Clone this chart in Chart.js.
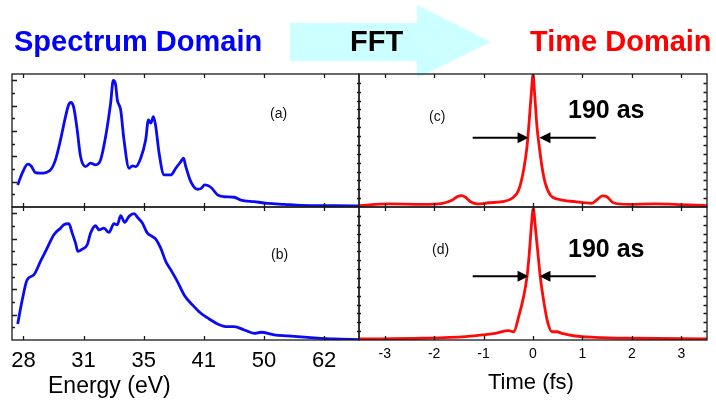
<!DOCTYPE html>
<html>
<head>
<meta charset="utf-8">
<script src="https://cdn.jsdelivr.net/npm/chart.js@4.4.0/dist/chart.umd.min.js"></script>
<style>
  body { margin: 0; background: #fff; }
  #wrap { position: relative; width: 716px; height: 400px; overflow: hidden;
          font-family: "Liberation Sans", Arial, sans-serif; }
  #wrap canvas { position: absolute; left: 0; top: 0; }
  .txt { position: absolute; white-space: nowrap; line-height: 1; }
  #fft-arrow { position: absolute; left: 290px; top: 5px; width: 201px; height: 73px; background: #ccffff;
               clip-path: polygon(0 18px, 127px 18px, 127px 0, 201px 37px, 127px 73px, 127px 56px, 0 56px); }
</style>
</head>
<body>
<div id="wrap">
  <div id="fft-arrow"></div>
  <canvas id="chartA" width="716" height="400"></canvas>
  <canvas id="chartB" width="716" height="400"></canvas>
  <canvas id="chartC" width="716" height="400"></canvas>
  <canvas id="chartD" width="716" height="400"></canvas>
</div>
<script>
// --- tick labels ---
// energy axis: ticks equally spaced, x data below is the position along that axis (0 = "28" tick)
const energyTicks = ["28", "31", "35", "41", "50", "62"];
const timeTicks = [-3, -2, -1, 0, 1, 2, 3];

// --- (a) spectrum ---
const posA = [-0.095, -0.02, 0.072, 0.128, 0.2, 0.283, 0.45, 0.533, 0.617, 0.7, 0.756, 0.794, 0.839, 0.894, 0.95,
  1.033, 1.117, 1.2, 1.283, 1.367, 1.45, 1.494, 1.533, 1.561, 1.617, 1.672, 1.756, 1.811, 1.867, 1.95,
  2.033, 2.078, 2.117, 2.161, 2.2, 2.256, 2.339, 2.45, 2.533, 2.617, 2.661, 2.7, 2.783, 2.894, 2.95,
  3.017, 3.117, 3.228, 3.339, 3.506, 3.617, 3.839, 4.061, 4.339, 4.617, 5.17, 5.58];
const specA = [0.174, 0.267, 0.338, 0.324, 0.271, 0.267, 0.293, 0.372, 0.53, 0.714, 0.812, 0.825, 0.781, 0.609, 0.398,
  0.319, 0.346, 0.332, 0.372, 0.556, 0.82, 0.999, 0.965, 0.847, 0.767, 0.53, 0.306, 0.324, 0.319, 0.385,
  0.53, 0.688, 0.662, 0.714, 0.635, 0.425, 0.253, 0.253, 0.306, 0.358, 0.385, 0.319, 0.2, 0.14, 0.145,
  0.174, 0.156, 0.095, 0.081, 0.077, 0.055, 0.042, 0.029, 0.021, 0.013, 0.01, 0.008];

// --- (b) spectrum ---
const posB = [-0.095, -0.02, 0.061, 0.172, 0.283, 0.394, 0.506, 0.617, 0.672, 0.756, 0.811, 0.867, 0.906, 0.978,
  1.061, 1.117, 1.2, 1.256, 1.339, 1.422, 1.506, 1.561, 1.617, 1.683, 1.756, 1.839, 1.906, 1.978,
  2.061, 2.144, 2.2, 2.283, 2.367, 2.45, 2.561, 2.672, 2.811, 2.95, 3.089, 3.228, 3.394, 3.506, 3.672,
  3.839, 3.95, 4.172, 4.394, 4.728, 5.17, 5.58];
const specB = [0.127, 0.316, 0.475, 0.514, 0.62, 0.725, 0.831, 0.883, 0.91, 0.918, 0.844, 0.765, 0.699, 0.717,
  0.752, 0.844, 0.902, 0.87, 0.883, 0.849, 0.918, 0.91, 0.981, 0.928, 0.976, 0.997, 0.963, 0.923,
  0.844, 0.817, 0.797, 0.725, 0.62, 0.554, 0.461, 0.356, 0.277, 0.211, 0.166, 0.127, 0.105, 0.105, 0.079,
  0.053, 0.061, 0.04, 0.032, 0.021, 0.008, 0.003];

// --- (c) pulse (fs) ---
const timeC = [-3.52, -2.91, -2.24, -1.83, -1.63, -1.53, -1.445, -1.365, -1.264, -1.129, -0.895, -0.625, -0.423,
  -0.29, -0.19, -0.121, -0.075, -0.034, 0, 0.032, 0.08, 0.127, 0.181, 0.248, 0.349, 0.516, 0.853,
  1.19, 1.29, 1.403, 1.49, 1.625, 1.93, 2.466, 2.87, 3.52];
const ampC = [0.01, 0.023, 0.02, 0.028, 0.053, 0.078, 0.085, 0.073, 0.04, 0.023, 0.032, 0.04, 0.066,
  0.128, 0.279, 0.454, 0.656, 0.857, 0.995, 0.857, 0.605, 0.454, 0.304, 0.179, 0.09, 0.058, 0.04,
  0.028, 0.053, 0.083, 0.078, 0.032, 0.02, 0.023, 0.02, 0.01];

// --- (d) pulse (fs) ---
const timeD = [-3.52, -2.24, -1.365, -1.03, -0.76, -0.558, -0.49, -0.39, -0.29, -0.19, -0.121, -0.075, -0.034,
  0.006, 0.046, 0.1, 0.147, 0.214, 0.294, 0.383, 0.484, 0.585, 0.853, 1.256, 1.996, 3.52];
const ampD = [0.008, 0.013, 0.025, 0.038, 0.05, 0.068, 0.07, 0.062, 0.175, 0.326, 0.476, 0.652, 0.852,
  0.99, 0.852, 0.652, 0.476, 0.3, 0.138, 0.062, 0.062, 0.05, 0.03, 0.02, 0.013, 0.008];

// FWHM markers (fs) and their height (fraction of peak) for (c), (d)
const arrowTips = [-0.09, 0.13];
const arrowTails = [-1.22, 1.27];
const arrowLevels = [0.52, 0.48];

Chart.defaults.font.family = '"Liberation Sans", Arial, sans-serif';
Chart.defaults.color = "#000";

// frame, inward ticks and the FWHM arrows
const panelFrame = {
  id: "panelFrame",
  afterDatasetsDraw(chart, args, o) {
    const { ctx, chartArea: a, scales: { x, y } } = chart;
    ctx.save();
    ctx.strokeStyle = "#1a1a1a";
    ctx.lineWidth = 1.3;
    ctx.beginPath();
    o.xTicks.forEach(v => {
      const px = Math.round(x.getPixelForValue(v)) + 0.5;
      ctx.moveTo(px, a.top); ctx.lineTo(px, a.top + 4);
      ctx.moveTo(px, a.bottom); ctx.lineTo(px, a.bottom - 4);
    });
    o.yTicks.forEach((v, i) => {
      const py = Math.round(y.getPixelForValue(v)) + 0.5;
      if (o.ySide === "left") {
        const len = i % 2 === 1 ? 5 : 3;
        ctx.moveTo(a.left, py); ctx.lineTo(a.left + len, py);
      } else {
        ctx.moveTo(a.right, py); ctx.lineTo(a.right - 3.5, py);
        ctx.moveTo(a.left - 2, py); ctx.lineTo(a.left + 2, py);
      }
    });
    ctx.stroke();
    ctx.strokeRect(a.left, a.top, a.width, a.height);

    if (o.arrowLevel != null) {
      const ay = y.getPixelForValue(o.arrowLevel);
      ctx.fillStyle = "#000";
      ctx.strokeStyle = "#000";
      ctx.lineWidth = 2;
      arrowTips.forEach((tip, i) => {
        const tx = x.getPixelForValue(tip);
        const sx = x.getPixelForValue(arrowTails[i]);
        const dir = Math.sign(tx - sx);
        ctx.beginPath();
        ctx.moveTo(sx, ay); ctx.lineTo(tx - dir * 9, ay);
        ctx.stroke();
        ctx.beginPath();
        ctx.moveTo(tx, ay);
        ctx.lineTo(tx - dir * 11, ay - 5.5);
        ctx.lineTo(tx - dir * 11, ay + 5.5);
        ctx.closePath();
        ctx.fill();
      });
    }
    ctx.restore();
  }
};

const leftYTicks = [0.1, 0.2, 0.3, 0.4, 0.5, 0.6, 0.7, 0.8, 0.9, 1.0];
const rightYTicks = Array.from({ length: 14 }, (_, k) => (k + 1) / 15);

function makePanel(id, xs, ys, opt) {
  const xScale = {
    type: "linear", min: opt.xMin, max: opt.xMax, display: !!opt.labels,
    grid: { display: false, drawTicks: false }, border: { display: false },
    afterBuildTicks: s => { s.ticks = opt.tickValues.map(v => ({ value: v })); },
    ticks: {
      autoSkip: false, maxRotation: 0, padding: opt.labelPad || 0,
      font: { size: opt.labelSize || 12 }, color: "#000",
      callback: opt.labels || (v => v)
    }
  };
  // fixed label band under the bottom panels
  if (opt.labels) xScale.afterFit = s => { s.height = 60; };

  return new Chart(document.getElementById(id), {
    type: "line",
    data: {
      datasets: [{
        data: xs.map((x, i) => ({ x, y: ys[i] })),
        borderColor: opt.color, borderWidth: 2.8,
        pointRadius: 0, cubicInterpolationMode: "monotone", fill: false
      }]
    },
    options: {
      responsive: false, animation: false, events: [],
      layout: { padding: opt.pad },
      scales: {
        x: xScale,
        y: { type: "linear", min: 0, max: opt.yMax, display: false }
      },
      plugins: {
        legend: { display: false }, tooltip: { enabled: false },
        panelFrame: { xTicks: opt.tickValues, yTicks: opt.yTicks, ySide: opt.ySide, arrowLevel: opt.arrowLevel }
      }
    },
    plugins: [panelFrame]
  });
}

const energyIdx = energyTicks.map((_, i) => i);

makePanel("chartA", posA, specA, {
  pad: { left: 12, top: 74, right: 357, bottom: 193 }, xMin: -0.19, xMax: 5.58, yMax: 1.05,
  tickValues: energyIdx, yTicks: leftYTicks, ySide: "left", color: "#0a0af5"
});
makePanel("chartB", posB, specB, {
  pad: { left: 12, top: 207, right: 357, bottom: 0 }, xMin: -0.19, xMax: 5.58, yMax: 1.05,
  tickValues: energyIdx, yTicks: leftYTicks, ySide: "left", color: "#0a0af5",
  labels: v => energyTicks[v], labelSize: 22, labelPad: 8
});
makePanel("chartC", timeC, ampC, {
  pad: { left: 359, top: 74, right: 9, bottom: 193 }, xMin: -3.52, xMax: 3.52, yMax: 1,
  tickValues: timeTicks, yTicks: rightYTicks, ySide: "right", color: "#ff0a0a", arrowLevel: arrowLevels[0]
});
makePanel("chartD", timeD, ampD, {
  pad: { left: 359, top: 207, right: 9, bottom: 0 }, xMin: -3.52, xMax: 3.52, yMax: 1,
  tickValues: timeTicks, yTicks: rightYTicks, ySide: "right", color: "#ff0a0a", arrowLevel: arrowLevels[1],
  labels: v => String(v), labelSize: 14, labelPad: 6
});

// HTML text placed by baseline
function label(text, left, baseline, size, weight, color) {
  const el = document.createElement("div");
  el.className = "txt";
  el.textContent = text;
  el.style.left = left + "px";
  el.style.top = (baseline - 0.8465 * size) + "px";
  el.style.fontSize = size + "px";
  el.style.fontWeight = weight;
  el.style.color = color;
  document.getElementById("wrap").appendChild(el);
}

label("Spectrum Domain", 14, 52, 29, "bold", "#0000ff");
label("FFT", 350, 52, 29, "bold", "#000");
label("Time Domain", 530, 52, 29, "bold", "#ff0000");
label("(a)", 270, 117.5, 14, "normal", "#111");
label("(b)", 271, 258.5, 14, "normal", "#111");
label("(c)", 429, 121, 14, "normal", "#111");
label("(d)", 432, 253.5, 14, "normal", "#111");
label("190 as", 568, 118, 25, "bold", "#000");
label("190 as", 568, 257, 25, "bold", "#000");
label("Energy (eV)", 48, 393, 23, "normal", "#000");
label("Time (fs)", 488, 390, 22, "normal", "#000");
</script>
</body>
</html>
